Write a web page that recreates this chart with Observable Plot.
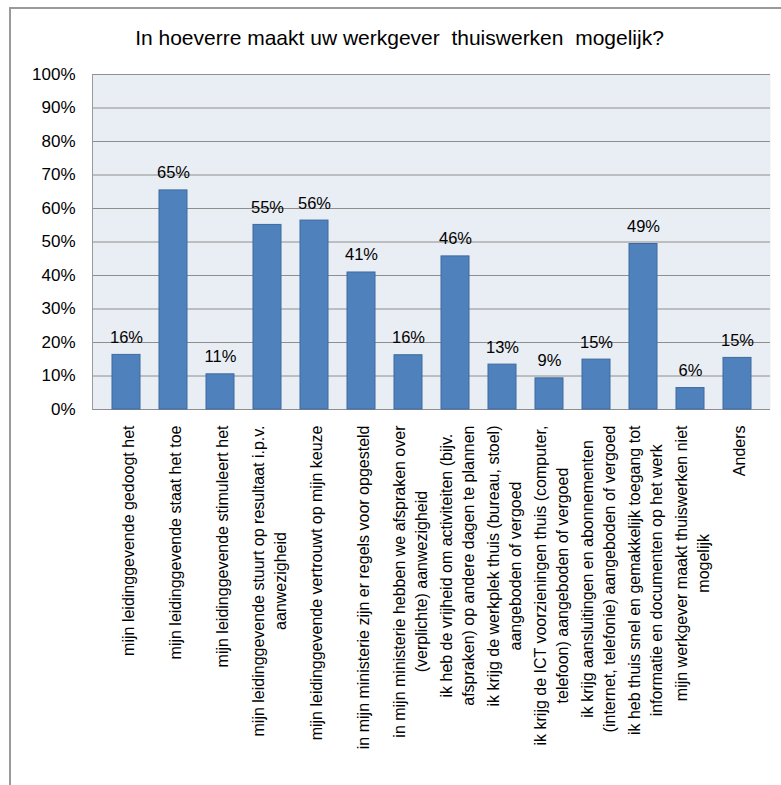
<!DOCTYPE html>
<html>
<head>
<meta charset="utf-8">
<script src="https://cdn.jsdelivr.net/npm/d3@7"></script>
<script src="https://cdn.jsdelivr.net/npm/@observablehq/plot@0.6"></script>
<style>
  html, body { margin: 0; padding: 0; background: #fff; }
  #wrap { position: relative; width: 781px; height: 785px; overflow: hidden; font-family: "Liberation Sans", Arial, sans-serif; }
  #frame { position: absolute; left: 9px; top: 7px; width: 780px; height: 790px; border-left: 2px solid #9a9a9a; border-top: 2px solid #9a9a9a; }
  #title { position: absolute; left: 18px; top: 27px; width: 763px; text-align: center; font-size: 21px; line-height: 1; color: #000; white-space: pre; }
  #chart { position: absolute; left: 0; top: 0; }
</style>
</head>
<body>
<div id="wrap">
  <div id="frame"></div>
  <div id="chart"></div>
  <div id="title"></div>
</div>
<script>
const title = "In hoeverre maakt uw werkgever  thuiswerken  mogelijk?";

const categories = [
  "mijn leidinggevende gedoogt het",
  "mijn leidinggevende staat het toe",
  "mijn leidinggevende stimuleert het",
  "mijn leidinggevende stuurt op resultaat i.p.v.\naanwezigheid",
  "mijn leidinggevende vertrouwt op mijn keuze",
  "in mijn ministerie zijn er regels voor opgesteld",
  "in mijn ministerie hebben we afspraken over\n(verplichte) aanwezigheid",
  "ik heb de vrijheid om activiteiten (bijv.\nafspraken) op andere dagen te plannen",
  "ik krijg de werkplek thuis (bureau, stoel)\naangeboden of vergoed",
  "ik krijg de ICT voorzieningen thuis (computer,\ntelefoon) aangeboden of vergoed",
  "ik krijg aansluitingen en abonnementen\n(internet, telefonie) aangeboden of vergoed",
  "ik heb thuis snel en gemakkelijk toegang tot\ninformatie en documenten op het werk",
  "mijn werkgever maakt thuiswerken niet\nmogelijk",
  "Anders"
];

const values = [16.3, 65.4, 10.5, 55.1, 56.4, 40.9, 16.2, 45.7, 13.4, 9.3, 14.9, 49.4, 6.4, 15.4];

const yTicks = [0, 10, 20, 30, 40, 50, 60, 70, 80, 90, 100];

const data = categories.map((c, i) => ({ category: c, value: values[i] }));

const FONT = "Liberation Sans";
const labelSize = 16;

document.getElementById("title").textContent = title;

// measure label line widths so rotated label blocks start just below the axis
const ctx = document.createElement("canvas").getContext("2d");
ctx.font = `${labelSize}px "${FONT}"`;
const maxLineWidth = c => Math.max(...c.split("\n").map(s => ctx.measureText(s).width));

const labelMarks = categories.map(c =>
  Plot.text([c], {
    x: d => d,
    text: d => d,
    frameAnchor: "bottom",
    dy: 16 + maxLineWidth(c) / 2,
    rotate: -90,
    textAnchor: "middle",
    lineAnchor: "middle",
    lineHeight: 1.38,
    fontSize: labelSize,
    fill: "#000"
  })
);

const chart = Plot.plot({
  width: 781,
  height: 785,
  marginLeft: 92,
  marginRight: 11,
  marginTop: 74,
  marginBottom: 376,
  style: { fontFamily: `"${FONT}", Arial, sans-serif`, background: "transparent", color: "#000" },
  x: { domain: categories, padding: 0.41, axis: null },
  y: { domain: [0, 100], axis: null },
  marks: [
    Plot.frame({ fill: "#e9edf4", stroke: null }),
    Plot.ruleY(yTicks, { stroke: "#8e8e8e", strokeWidth: 1 }),
    Plot.frame({ anchor: "left", stroke: "#9a9a9a" }),
    Plot.axisY(yTicks, { label: null, tickFormat: d => d + "%", tickSize: 0, tickPadding: 17, fontSize: 17, fill: "#000" }),
    Plot.barY(data, { x: "category", y: "value", fill: "#4f81bd", stroke: "#3d6b9f", strokeWidth: 1 }),
    Plot.text(data, { x: "category", y: "value", text: d => Math.round(d.value) + "%", dy: -12, lineAnchor: "bottom", fontSize: 16.5, fill: "#000" }),
    ...labelMarks
  ]
});

document.getElementById("chart").appendChild(chart);
</script>
</body>
</html>
